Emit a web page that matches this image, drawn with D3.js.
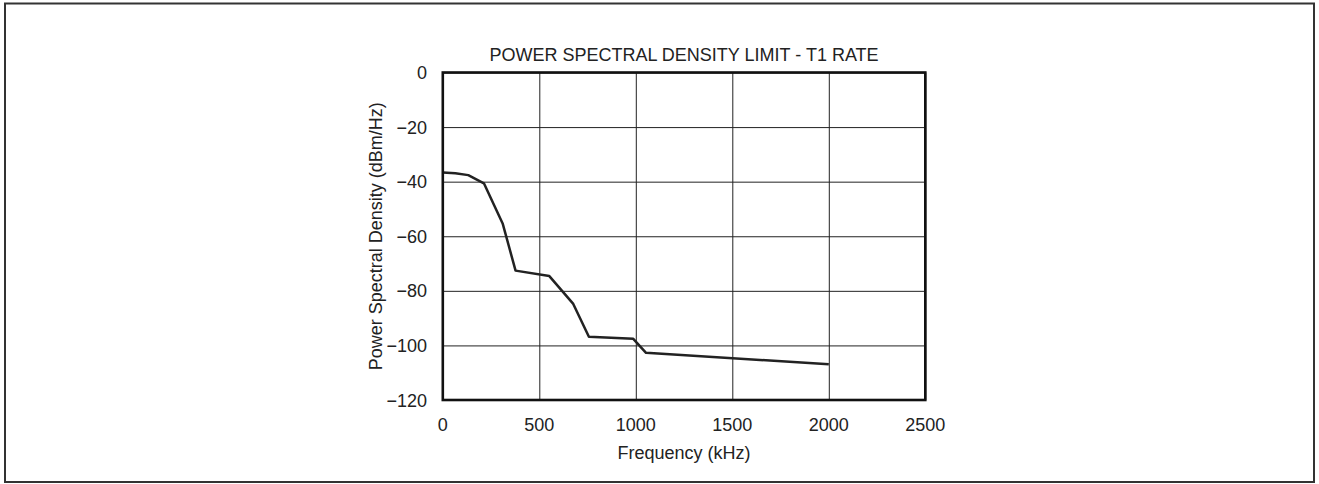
<!DOCTYPE html>
<html><head><meta charset="utf-8">
<script src="https://cdn.jsdelivr.net/npm/d3@7"></script>
<style>html,body{margin:0;padding:0;background:#fff;}svg{display:block;}</style>
</head><body>
<svg id="c" width="1319" height="484"></svg>
<script>
const freqKHz = [0, 65, 132, 213, 310, 377, 552, 676, 757, 987, 1053, 2000];
const psdDbm  = [-36.6, -36.9, -37.6, -40.6, -55.3, -72.6, -74.6, -84.8, -96.8, -97.6, -102.7, -106.9];
const xTicks = [0, 500, 1000, 1500, 2000, 2500];
const yTicks = [0, -20, -40, -60, -80, -100, -120];
const title = "POWER SPECTRAL DENSITY LIMIT - T1 RATE";
const xTitle = "Frequency (kHz)";
const yTitle = "Power Spectral Density (dBm/Hz)";

const svg = d3.select("#c");
const font = "Liberation Sans, Arial, sans-serif";
const fs = 18;
svg.append("rect").attr("x",5).attr("y",3.5).attr("width",1309).attr("height",478.5)
  .attr("fill","none").attr("stroke","#333").attr("stroke-width",2);

const L=442.8, R=925.3, T=72.5, B=400;
const x = d3.scaleLinear().domain([0,2500]).range([L,R]);
const y = d3.scaleLinear().domain([-120,0]).range([B,T]);

const g = svg.append("g");
// grid
g.append("g").attr("transform",`translate(0,${B})`)
  .call(d3.axisBottom(x).tickValues(xTicks).tickSize(-(B-T)).tickFormat(""))
  .call(s=>{s.select(".domain").remove(); s.selectAll("line").attr("stroke","#222").attr("stroke-width",1);});
g.append("g").attr("transform",`translate(${L},0)`)
  .call(d3.axisLeft(y).tickValues(yTicks).tickSize(-(R-L)).tickFormat(""))
  .call(s=>{s.select(".domain").remove(); s.selectAll("line").attr("stroke","#222").attr("stroke-width",1);});

// tick labels
const fmt = v => (v<0 ? "\u2212"+Math.abs(v) : String(v));
g.selectAll(".xl").data(xTicks).join("text").attr("x",d=>x(d)).attr("y",430.5)
  .attr("text-anchor","middle").attr("font-family",font).attr("font-size",fs).attr("fill","#222").text(fmt);
g.selectAll(".yl").data(yTicks).join("text").attr("x",427).attr("y",d=>y(d)+6.5)
  .attr("text-anchor","end").attr("font-family",font).attr("font-size",fs).attr("fill","#222").text(fmt);

// line
const pts = freqKHz.map((f,i)=>[f,psdDbm[i]]);
g.append("path").datum(pts).attr("fill","none").attr("stroke","#222").attr("stroke-width",2.5)
  .attr("stroke-linejoin","round")
  .attr("d", d3.line().x(d=>x(d[0])).y(d=>y(d[1])));

// frame
g.append("rect").attr("x",L).attr("y",T).attr("width",R-L).attr("height",B-T)
  .attr("fill","none").attr("stroke","#111").attr("stroke-width",2.6);

// titles
svg.append("text").attr("x",(L+R)/2).attr("y",61).attr("text-anchor","middle")
  .attr("font-family",font).attr("font-size",fs).attr("fill","#222").text(title);
svg.append("text").attr("x",(L+R)/2).attr("y",459).attr("text-anchor","middle")
  .attr("font-family",font).attr("font-size",fs).attr("fill","#222").text(xTitle);
svg.append("text").attr("transform",`translate(382,${(T+B)/2}) rotate(-90)`).attr("text-anchor","middle")
  .attr("font-family",font).attr("font-size",fs).attr("fill","#222").text(yTitle);
</script>
</body></html>
